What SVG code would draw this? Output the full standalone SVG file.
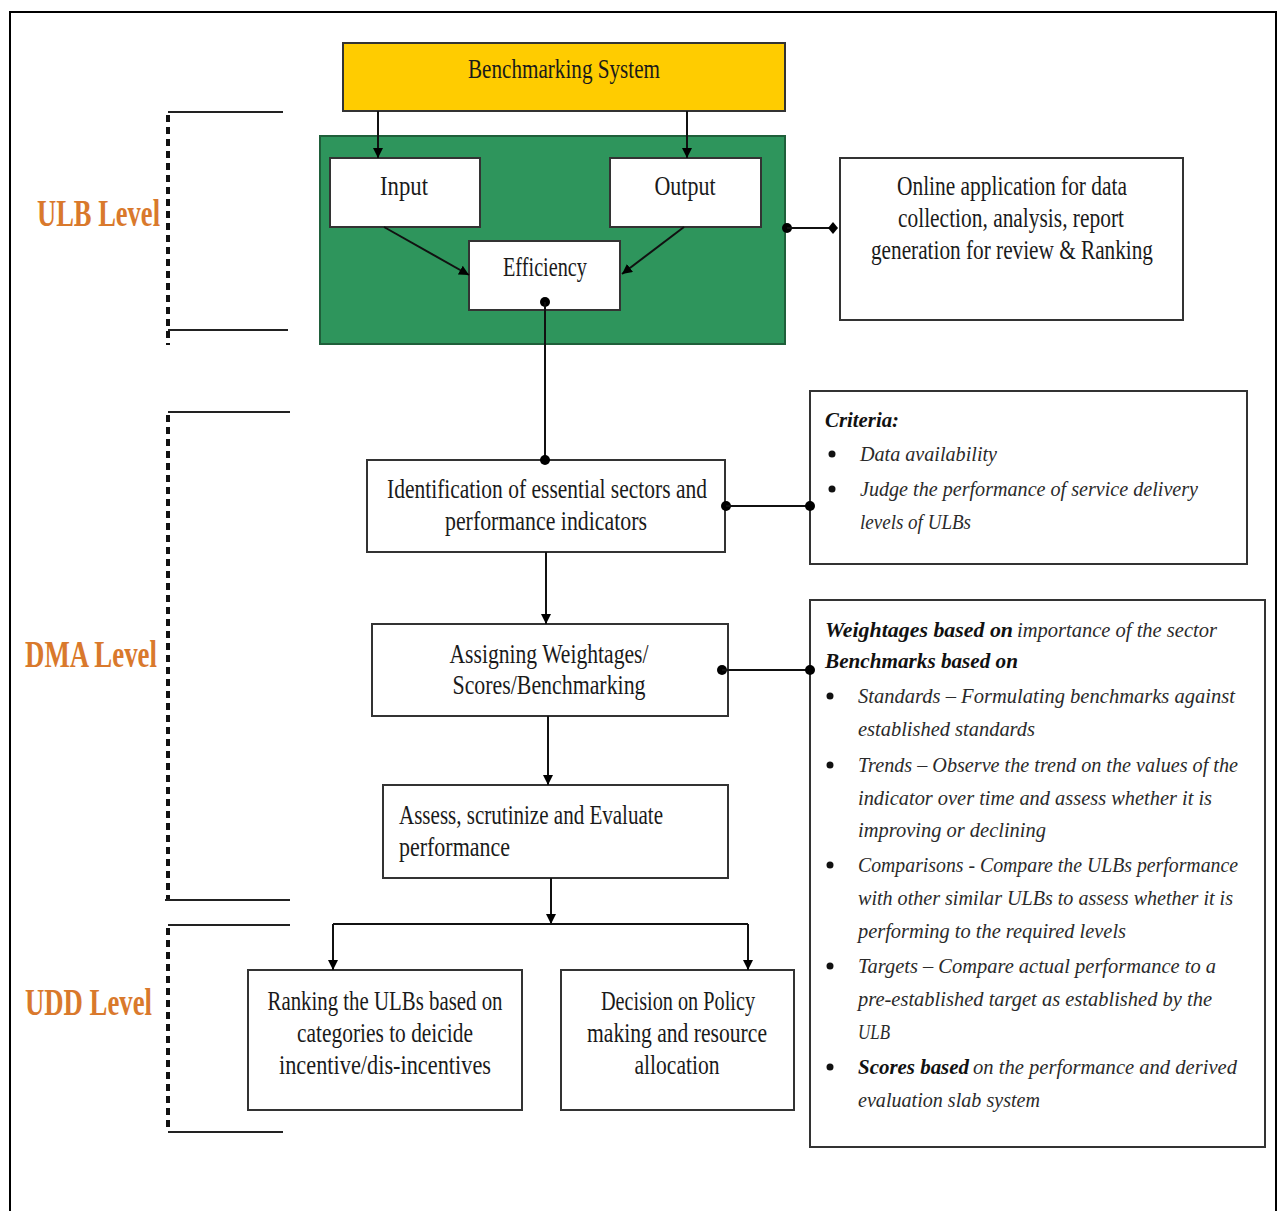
<svg xmlns="http://www.w3.org/2000/svg" width="1278" height="1211" viewBox="0 0 1278 1211">
<defs>
<marker id="arr" viewBox="0 0 10 10" refX="10" refY="5" markerWidth="10" markerHeight="10" markerUnits="userSpaceOnUse" orient="auto">
<path d="M0,0 L10,5 L0,10 z" fill="#000"/>
</marker>
</defs>
<style>
.box{fill:#fff;stroke:#333;stroke-width:2}
.t{font-family:"Liberation Serif",serif;font-size:27px;fill:#1a1a1a}
.c{text-anchor:middle}
.it{font-family:"Liberation Serif",serif;font-size:22px;font-style:italic;fill:#2a2a2a}
.sm{font-size:21px}
.bi{font-weight:bold;fill:#111}
.lvl{font-family:"Liberation Serif",serif;font-size:37px;font-weight:bold;fill:#D9792C}
.ln{stroke:#111;stroke-width:2;fill:none}
.dot{stroke:#111;stroke-width:4;stroke-dasharray:7 5;fill:none}
.br{stroke:#222;stroke-width:2;fill:none}
.bul{fill:#111}
</style>
<rect x="0" y="0" width="1278" height="1211" fill="#fff"/>
<path d="M10,1211 V12 H1276 V1211" fill="none" stroke="#000" stroke-width="2"/>

<g id="levels">
<path class="dot" d="M168,115 V345"/>
<path class="br" d="M168,112 H283 M168,330 H288"/>
<text class="lvl" x="37" y="226" textLength="123" lengthAdjust="spacingAndGlyphs">ULB Level</text>
<path class="dot" d="M168,415 V900"/>
<path class="br" d="M168,412 H290 M165,900 H290"/>
<text class="lvl" x="25" y="667" textLength="132" lengthAdjust="spacingAndGlyphs">DMA Level</text>
<path class="dot" d="M168,928 V1132"/>
<path class="br" d="M168,925 H290 M168,1132 H283"/>
<text class="lvl" x="25" y="1015" textLength="127" lengthAdjust="spacingAndGlyphs">UDD Level</text>
</g>

<g id="benchmarking">
<rect x="343" y="43" width="442" height="68" fill="#FFCC00" stroke="#333" stroke-width="2"/>
<text class="t c" x="564" y="78" textLength="192" lengthAdjust="spacingAndGlyphs">Benchmarking System</text>
</g>
<g id="ulb-group">
<rect x="320" y="136" width="465" height="208" fill="#2E955C" stroke="#1f5f3a" stroke-width="2"/>
</g>
<g id="input">
<rect class="box" x="330" y="158" width="150" height="69"/>
<text class="t c" x="404" y="195" textLength="48" lengthAdjust="spacingAndGlyphs">Input</text>
</g>
<g id="output">
<rect class="box" x="610" y="158" width="151" height="69"/>
<text class="t c" x="685" y="195" textLength="61" lengthAdjust="spacingAndGlyphs">Output</text>
</g>
<g id="efficiency">
<rect class="box" x="469" y="241" width="151" height="69"/>
<text class="t c" x="545" y="276" textLength="84" lengthAdjust="spacingAndGlyphs">Efficiency</text>
</g>
<g id="online">
<rect class="box" x="840" y="158" width="343" height="162"/>
<text class="t c" x="1012" y="195" textLength="230" lengthAdjust="spacingAndGlyphs">Online application for data</text>
<text class="t c" x="1011" y="227" textLength="226" lengthAdjust="spacingAndGlyphs">collection, analysis, report</text>
<text class="t c" x="1012" y="259" textLength="282" lengthAdjust="spacingAndGlyphs">generation for review &amp; Ranking</text>
</g>
<g id="identification">
<rect class="box" x="367" y="460" width="358" height="92"/>
<text class="t c" x="547" y="498" textLength="320" lengthAdjust="spacingAndGlyphs">Identification of essential sectors and</text>
<text class="t c" x="546" y="530" textLength="202" lengthAdjust="spacingAndGlyphs">performance indicators</text>
</g>
<g id="criteria">
<rect class="box" x="810" y="391" width="437" height="173"/>
<text class="it bi" x="825" y="427" textLength="74" lengthAdjust="spacingAndGlyphs">Criteria:</text>
<circle class="bul" cx="832" cy="454" r="3.5"/>
<text class="it" x="860" y="461" textLength="137" lengthAdjust="spacingAndGlyphs">Data availability</text>
<circle class="bul" cx="832" cy="489" r="3.5"/>
<text class="it" x="860" y="496" textLength="338" lengthAdjust="spacingAndGlyphs">Judge the performance of service delivery</text>
<text class="it" x="860" y="529" textLength="111" lengthAdjust="spacingAndGlyphs">levels of ULBs</text>
</g>
<g id="assigning">
<rect class="box" x="372" y="624" width="356" height="92"/>
<text class="t c" x="549" y="663" textLength="199" lengthAdjust="spacingAndGlyphs">Assigning Weightages/</text>
<text class="t c" x="549" y="694" textLength="193" lengthAdjust="spacingAndGlyphs">Scores/Benchmarking</text>
</g>
<g id="weightages">
<rect class="box" x="810" y="600" width="455" height="547"/>
<text class="it bi" x="825" y="637" textLength="188" lengthAdjust="spacingAndGlyphs">Weightages based on</text>
<text class="it" x="1017" y="637" textLength="200" lengthAdjust="spacingAndGlyphs">importance of the sector</text>
<text class="it bi" x="825" y="668" textLength="193" lengthAdjust="spacingAndGlyphs">Benchmarks based on</text>
<circle class="bul" cx="830" cy="696" r="3.5"/>
<text class="it sm" x="858" y="703" textLength="377" lengthAdjust="spacingAndGlyphs">Standards – Formulating benchmarks against</text>
<text class="it" x="858" y="736" textLength="177" lengthAdjust="spacingAndGlyphs">established standards</text>
<circle class="bul" cx="830" cy="765" r="3.5"/>
<text class="it sm" x="858" y="772" textLength="380" lengthAdjust="spacingAndGlyphs">Trends – Observe the trend on the values of the</text>
<text class="it" x="858" y="805" textLength="354" lengthAdjust="spacingAndGlyphs">indicator over time and assess whether it is</text>
<text class="it" x="858" y="837" textLength="188" lengthAdjust="spacingAndGlyphs">improving or declining</text>
<circle class="bul" cx="830" cy="865" r="3.5"/>
<text class="it sm" x="858" y="872" textLength="380" lengthAdjust="spacingAndGlyphs">Comparisons - Compare the ULBs performance</text>
<text class="it" x="858" y="905" textLength="375" lengthAdjust="spacingAndGlyphs">with other similar ULBs to assess whether it is</text>
<text class="it" x="858" y="938" textLength="268" lengthAdjust="spacingAndGlyphs">performing to the required levels</text>
<circle class="bul" cx="830" cy="966" r="3.5"/>
<text class="it" x="858" y="973" textLength="358" lengthAdjust="spacingAndGlyphs">Targets – Compare actual performance to a</text>
<text class="it" x="858" y="1006" textLength="354" lengthAdjust="spacingAndGlyphs">pre-established target as established by the</text>
<text class="it" x="858" y="1039" textLength="32" lengthAdjust="spacingAndGlyphs">ULB</text>
<circle class="bul" cx="830" cy="1067" r="3.5"/>
<text class="it bi" x="858" y="1074" textLength="111" lengthAdjust="spacingAndGlyphs">Scores based</text>
<text class="it" x="973" y="1074" textLength="264" lengthAdjust="spacingAndGlyphs">on the performance and derived</text>
<text class="it" x="858" y="1107" textLength="182" lengthAdjust="spacingAndGlyphs">evaluation slab system</text>
</g>
<g id="assess">
<rect class="box" x="383" y="785" width="345" height="93"/>
<text class="t" x="399" y="824" textLength="264" lengthAdjust="spacingAndGlyphs">Assess, scrutinize and Evaluate</text>
<text class="t" x="399" y="856" textLength="111" lengthAdjust="spacingAndGlyphs">performance</text>
</g>
<g id="ranking">
<rect class="box" x="248" y="970" width="274" height="140"/>
<text class="t c" x="385" y="1010" textLength="235" lengthAdjust="spacingAndGlyphs">Ranking the ULBs based on</text>
<text class="t c" x="385" y="1042" textLength="176" lengthAdjust="spacingAndGlyphs">categories to deicide</text>
<text class="t c" x="385" y="1074" textLength="212" lengthAdjust="spacingAndGlyphs">incentive/dis-incentives</text>
</g>
<g id="decision">
<rect class="box" x="561" y="970" width="233" height="140"/>
<text class="t c" x="678" y="1010" textLength="154" lengthAdjust="spacingAndGlyphs">Decision on Policy</text>
<text class="t c" x="677" y="1042" textLength="180" lengthAdjust="spacingAndGlyphs">making and resource</text>
<text class="t c" x="677" y="1074" textLength="85" lengthAdjust="spacingAndGlyphs">allocation</text>
</g>

<g id="connectors">
<path class="ln" d="M378,111 V158" marker-end="url(#arr)"/>
<path class="ln" d="M687,111 V158" marker-end="url(#arr)"/>
<path class="ln" d="M384,227 L469,275" marker-end="url(#arr)"/>
<path class="ln" d="M684,227 L622,274" marker-end="url(#arr)"/>
<circle cx="545" cy="302" r="5" fill="#000"/>
<path class="ln" d="M545,302 V460"/>
<circle cx="545" cy="460" r="5" fill="#000"/>
<circle cx="787" cy="228" r="5" fill="#000"/>
<path class="ln" d="M787,228 H833"/>
<path d="M833,222 L838,228 L833,234 L828,228 z" fill="#000"/>
<circle cx="726" cy="506" r="5" fill="#000"/>
<path class="ln" d="M726,506 H810"/>
<circle cx="810" cy="506" r="5" fill="#000"/>
<path class="ln" d="M546,552 V624" marker-end="url(#arr)"/>
<circle cx="722" cy="670" r="5" fill="#000"/>
<path class="ln" d="M722,670 H810"/>
<circle cx="810" cy="670" r="5" fill="#000"/>
<path class="ln" d="M548,716 V785" marker-end="url(#arr)"/>
<path class="ln" d="M551,878 V924" marker-end="url(#arr)"/>
<path class="ln" d="M333,924 H748"/>
<path class="ln" d="M333,924 V970" marker-end="url(#arr)"/>
<path class="ln" d="M748,924 V970" marker-end="url(#arr)"/>
</g>
</svg>
